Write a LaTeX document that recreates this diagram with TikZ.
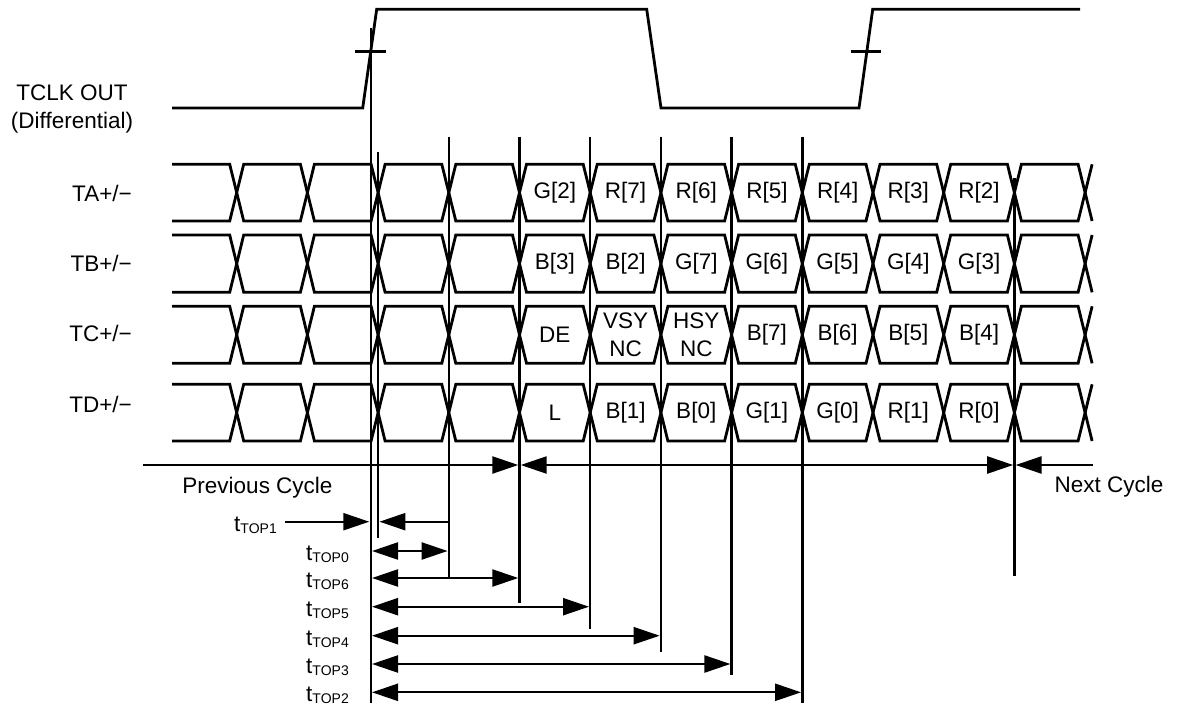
\documentclass[tikz,border=0pt]{standalone}
\usepackage{fontspec}
\setmainfont{Liberation Sans}
\usetikzlibrary{arrows.meta}
\newcommand\drow[2]{%
  \draw[sig] (172,#1) \foreach \k in {0,...,12} {
    -- ({236.7+70.7*\k-7},{mod(\k,2)==0 ? #1 : #2}) -- ({236.7+70.7*\k+7},{mod(\k,2)==0 ? #2 : #1}) };
  \draw[sig] (172,#2) \foreach \k in {0,...,12} {
    -- ({236.7+70.7*\k-7},{mod(\k,2)==0 ? #2 : #1}) -- ({236.7+70.7*\k+7},{mod(\k,2)==0 ? #1 : #2}) };
}
\newcommand\tlab[1]{t\raisebox{-2pt}{\fontsize{14}{14}\selectfont TOP#1}}
\begin{document}
\begin{tikzpicture}[x=1pt,y=-1pt,
  sig/.style={line width=2.8pt, line join=miter},
  vline/.style={line width=2.4pt},
  arr/.style={line width=2.3pt},
  lbl/.style={font=\fontsize{22.5}{28}\selectfont, inner sep=0pt},
  cell/.style={lbl, align=center},
  >={Triangle[length=26pt,width=17pt]}]
\useasboundingbox (0,0) rectangle (1180,706);
% clock
\draw[sig] (172,108) -- (362.7,108) -- (376.7,9.3) -- (646.7,9.3) -- (661,108) -- (859,108) -- (872.7,9.3) -- (1080,9.3);
\draw[vline] (355,51.7) -- (386,51.7);
\draw[vline] (850.7,51.7) -- (880.7,51.7);
\node[lbl] (clk1) at (72,93) {TCLK OUT};
\node[lbl] (clk2) at (72,123) {(Differential)};
% data rows
\drow{164.3}{221}
\drow{235}{292.3}
\drow{306.3}{363.3}
\drow{384.3}{441}
\node[lbl,anchor=east] (la) at (132,193) {TA+/−};
\node[lbl,anchor=east] (lb) at (132,263.5) {TB+/−};
\node[lbl,anchor=east] (lc) at (132,333.5) {TC+/−};
\node[lbl,anchor=east] (ld) at (132,404) {TD+/−};
\foreach \t [count=\i from 0] in {G[2],R[7],R[6],R[5],R[4],R[3],R[2]}
  \node[cell] (ta\i) at ({236.7+70.7*(\i+4.5)},192.7) {\t};
\foreach \t [count=\i from 0] in {B[3],B[2],G[7],G[6],G[5],G[4],G[3]}
  \node[cell] (tb\i) at ({236.7+70.7*(\i+4.5)},263.7) {\t};
\foreach \t [count=\i from 0] in {DE,{VSY\\NC},{HSY\\NC},B[7],B[6],B[5],B[4]}
  \node[cell] (tc\i) at ({236.7+70.7*(\i+4.5)},334.8) {\t};
\foreach \t [count=\i from 0] in {L,B[1],B[0],G[1],G[0],R[1],R[0]}
  \node[cell] (td\i) at ({236.7+70.7*(\i+4.5)},412.7) {\t};
% verticals
\draw[vline] (370.7,28) -- (370.7,703);
\draw[vline] (378.1,152) -- (378.1,538);
\draw[vline] (448.8,136.7) -- (448.8,578.3);
\draw[vline] (519.5,136.7) -- (519.5,603.3);
\draw[vline] (590.2,136.7) -- (590.2,629.3);
\draw[vline] (660.9,136.7) -- (660.9,651.7);
\draw[vline] (731.6,136.7) -- (731.6,675);
\draw[vline] (802.3,136.7) -- (802.3,703);
\draw[vline] (1014.4,178) -- (1014.4,576);
% cycle arrows
\draw[arr,->] (143,465) -- (518.3,465);
\draw[arr,<->] (520.7,465) -- (1013.2,465);
\draw[arr,<-] (1015.6,465) -- (1093,465);
\node[lbl] (prev) at (257.5,488) {Previous Cycle};
\node[lbl] (next) at (1109,487) {Next Cycle};
% timing arrows
\draw[arr,->] (285,521.7) -- (369.3,521.7);
\draw[arr,->] (448.8,521.7) -- (379.4,521.7);
\draw[arr,<->] (372,551) -- (447.6,551);
\draw[arr,<->] (372,578) -- (518.3,578);
\draw[arr,<->] (372,606.7) -- (589,606.7);
\draw[arr,<->] (372,635.7) -- (659.7,635.7);
\draw[arr,<->] (372,664) -- (730.4,664);
\draw[arr,<->] (372,692.3) -- (801.1,692.3);
\node[lbl,anchor=base east] (t1) at (277,531.5) {\tlab{1}};
\node[lbl,anchor=base east] (t0) at (349,560.5) {\tlab{0}};
\node[lbl,anchor=base east] (t6) at (349,587.5) {\tlab{6}};
\node[lbl,anchor=base east] (t5) at (349,616) {\tlab{5}};
\node[lbl,anchor=base east] (t4) at (349,645) {\tlab{4}};
\node[lbl,anchor=base east] (t3) at (349,673.5) {\tlab{3}};
\node[lbl,anchor=base east] (t2) at (349,701.5) {\tlab{2}};
\end{tikzpicture}
\end{document}
